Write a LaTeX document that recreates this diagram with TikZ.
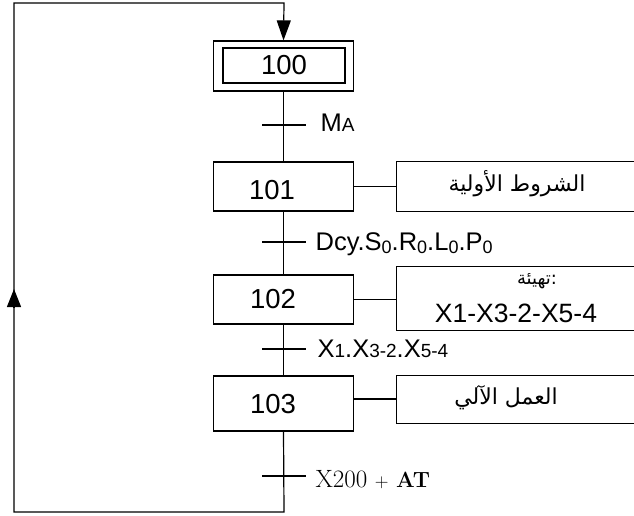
\documentclass[tikz,border=0pt]{standalone}
\usepackage{fontspec}
\setmainfont{Liberation Sans}
\newfontfamily\arabicfont[Script=Arabic]{DejaVu Sans}
\newfontfamily\lmr{Latin Modern Roman}
\TeXXeTstate=1
\usetikzlibrary{arrows.meta}
\newcommand{\szero}{\raisebox{-3pt}{\fontsize{18}{20}\selectfont 0}}
\newcommand{\smd}[1]{{\fontsize{19}{20}\selectfont #1}}
\begin{document}
\begin{tikzpicture}[x=1pt,y=-1pt,line width=1.2pt,
  stepbox/.style={draw, minimum width=140pt, minimum height=49pt, inner sep=0pt},
  steptext/.style={anchor=base, inner sep=0pt, font=\fontsize{27.5}{30}\selectfont},
  actbox/.style={minimum width=237pt, inner sep=0pt},
  acttext/.style={anchor=base, inner sep=0pt, font=\arabicfont\fontsize{22}{26}\selectfont},
  translabel/.style={anchor=base west, inner sep=0pt, font=\fontsize{25.5}{30}\selectfont},
  tip/.style={-{Triangle[length=20pt,width=14pt]}}]
\useasboundingbox (0,0) rectangle (634,515);

% steps
\node[stepbox, minimum height=50pt] (s100) at (283.5,66) {};
\node[draw, minimum width=122pt, minimum height=35pt, inner sep=0pt] (s100i) at (284,65.5) {};
\node[steptext] (n100) at (284,74.5) {100};
\node[stepbox] (s101) at (283.5,186.5) {};
\node[steptext] (n101) at (272,199) {101};
\node[stepbox] (s102) at (283.5,299.5) {};
\node[steptext] (n102) at (273,308) {102};
\node[stepbox, minimum height=55pt] (s103) at (283.5,403.5) {};
\node[steptext] (n103) at (273,413) {103};

% action boxes
\node[actbox, minimum height=49pt] (a101) at (515.5,186.5) {};
\draw (a101.north east) -- (a101.north west) -- (a101.south west) -- (a101.south east);
\node[acttext] (t101) at (517,191) {\beginR الشروط الأولية\endR};
\node[actbox, minimum height=63pt] (a102) at (515.5,298.5) {};
\draw (a102.north east) -- (a102.north west) -- (a102.south west) -- (a102.south east);
\node[acttext, font=\arabicfont\fontsize{18}{20}\selectfont] (t102a) at (537,284) {\beginR :تهيئة\endR};
\node[steptext, font=\fontsize{26.5}{30}\selectfont] (t102b) at (516,322) {X1-X3-2-X5-4};
\node[actbox, minimum height=47pt] (a103) at (515.5,399.5) {};
\draw (a103.north east) -- (a103.north west) -- (a103.south west) -- (a103.south east);
\node[acttext] (t103) at (506,404) {\beginR العمل الآلي\endR};

\draw (s101.east) -- (s101.east -| a101.west);
\draw (s102.east) -- (s102.east -| a102.west);
\draw ([yshift=4.5pt]s103.east) -- ([yshift=4.5pt]s103.east -| a103.west);

% links between steps
\draw (s100.south) -- (s101.north);
\draw (s101.south) -- (s102.north);
\draw (s102.south) -- (s103.north);

% transitions
\coordinate (t1) at (284,125);
\coordinate (t2) at (284,242);
\coordinate (t3) at (284,349);
\coordinate (t4) at (284,476);
\foreach \t in {t1,t2,t3,t4}{\draw ([xshift=-22pt]\t) -- ([xshift=22pt]\t);}
\node[translabel] (l1) at (320,131) {M\smd{A}};
\node[translabel] (l2) at (315,250) {Dcy.S\szero.R\szero.L\szero.P\szero};
\node[translabel] (l3) at (317,357) {X\smd{1}.X\smd{3-2}.X\smd{5-4}};
\node[translabel, font=\lmr\fontsize{25}{28}\selectfont] (l4) at (315,487) {X200 {\fontsize{19}{20}\selectfont+} {\fontsize{22}{24}\selectfont\bfseries AT}};

% loop back
\coordinate (br) at (284,512);
\coordinate (bl) at (14,512);
\coordinate (tl) at (14,3);
\coordinate (tr) at (284,3);
\draw[tip] (s103.south) -- (br) -- (bl) -- (tl) -- (tr) -- (s100.north);
\coordinate (la1) at (14,307);
\coordinate (la2) at (14,289);
\draw[-{Triangle[length=18pt,width=14pt]}] (la1) -- (la2);
\end{tikzpicture}
\end{document}
